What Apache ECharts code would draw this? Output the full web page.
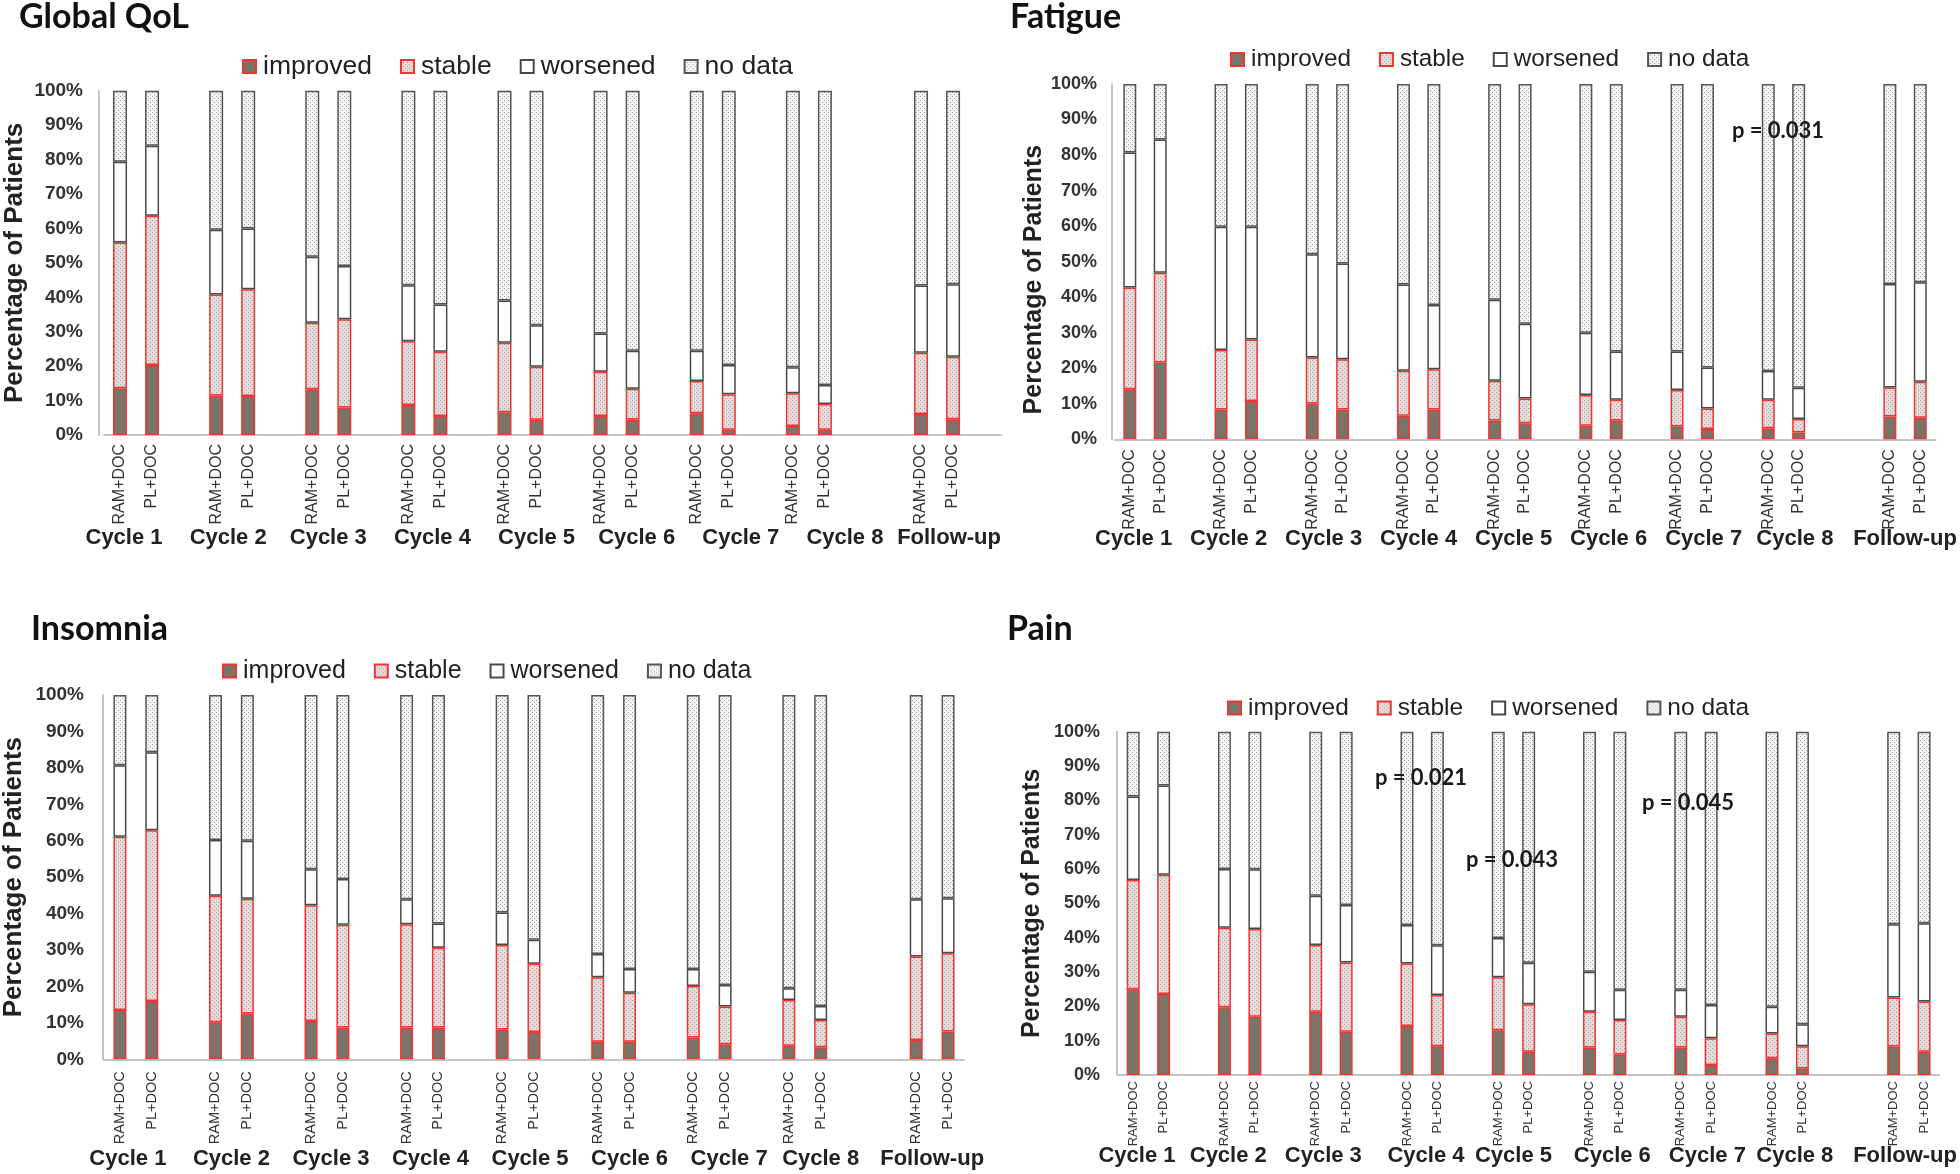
<!DOCTYPE html>
<html>
<head>
<meta charset="utf-8">
<script src="https://cdn.jsdelivr.net/npm/echarts@6/dist/echarts.min.js"></script>
<style>
html,body{margin:0;padding:0;background:#ffffff;}
#chart{width:1960px;height:1174px;}
</style>
</head>
<body>
<div id="chart"></div>
<script>
// ---------------- DATA ----------------
const groups = ['Cycle 1','Cycle 2','Cycle 3','Cycle 4','Cycle 5','Cycle 6','Cycle 7','Cycle 8','Follow-up'];
const arms = ['RAM+DOC','PL+DOC'];
const outcomes = ['improved','stable','worsened','no data'];
const yTicks = [0,10,20,30,40,50,60,70,80,90,100];

// bar order: Cycle 1 RAM+DOC, Cycle 1 PL+DOC, Cycle 2 RAM+DOC, Cycle 2 PL+DOC, ... Follow-up PL+DOC
const qolImproved = [13.6,20.3,11.5,11.3,13.3,8.0,8.7,5.5,6.6,4.4,5.5,4.5,6.3,1.5,2.6,1.5,6.1,4.6];
const qolStable   = [42.3,43.4,29.3,31.0,19.3,25.6,18.5,18.7,20.2,15.4,12.9,8.9,9.4,10.3,9.5,7.5,17.8,18.1];
const qolWorsened = [23.5,20.3,18.8,17.7,19.2,15.5,16.3,13.7,12.3,12.1,11.1,11.1,8.8,8.5,7.6,5.5,19.5,21.1];
const qolNoData   = [20.6,16.0,40.4,40.0,48.2,50.9,56.5,62.1,60.9,68.1,70.5,75.5,75.5,79.7,80.3,85.5,56.6,56.2];

const fatImproved = [14.1,21.6,8.4,10.8,10.1,8.4,6.6,8.4,5.3,4.5,3.8,5.3,3.6,2.9,3.1,1.9,6.4,6.1];
const fatStable   = [28.6,25.3,16.7,17.3,12.9,14.1,12.7,11.3,11.2,7.0,8.7,5.8,10.3,5.8,8.0,3.8,8.2,10.1];
const fatWorsened = [38.0,37.5,34.7,31.7,29.1,27.0,24.3,18.1,22.8,21.0,17.5,13.6,10.8,11.5,8.1,8.8,29.1,28.0];
const fatNoData   = [19.3,15.6,40.2,40.2,47.9,50.5,56.4,62.2,60.7,67.5,70.0,75.3,75.3,79.8,80.8,85.5,56.3,55.8];

const insImproved = [13.5,16.0,10.2,12.6,10.5,8.7,8.7,8.7,8.2,7.5,4.8,4.8,6.0,4.1,3.7,3.3,5.3,7.6];
const insStable   = [47.6,46.9,34.7,31.5,31.8,28.2,28.4,21.9,23.2,18.7,17.7,13.5,14.1,10.4,12.6,7.5,22.9,21.5];
const insWorsened = [19.6,21.4,15.3,15.9,9.9,12.6,6.8,6.7,8.9,6.6,6.4,6.5,4.7,5.9,3.2,3.8,15.7,15.1];
const insNoData   = [19.3,15.7,39.8,40.0,47.8,50.5,56.1,62.7,59.7,67.2,71.1,75.2,75.2,79.6,80.5,85.4,56.1,55.8];

const painImproved = [25.0,23.6,19.7,17.0,18.4,12.6,14.3,8.4,13.0,6.8,8.0,6.0,8.0,2.9,4.9,1.9,8.3,6.8];
const painStable   = [31.8,34.7,23.2,25.5,19.5,20.2,18.2,14.9,15.5,13.8,10.4,10.0,9.0,7.8,7.2,6.5,14.3,14.6];
const painWorsened = [24.3,26.0,17.1,17.4,14.3,16.7,11.2,14.5,11.4,12.1,11.7,8.8,7.8,9.7,7.8,6.4,21.3,22.8];
const painNoData   = [18.9,15.7,40.0,40.1,47.8,50.5,56.3,62.2,60.1,67.3,69.9,75.2,75.2,79.6,80.1,85.2,56.1,55.8];

const fatPValues  = ['p = 0.031'];
const painPValues = ['p = 0.021','p = 0.043','p = 0.045'];

// ---------------- LAYOUT ----------------
const panels = [
  { title:'Global QoL', values:[qolImproved,qolStable,qolWorsened,qolNoData], pvals:[], pPos:[],
    left:104, top:90.7, bottom:435, slot:32.04, trailing:1, yOffset:5, barWidth:14,
    titleX:19, titleY:0, legendX:242, legendY:53, legendFont:26.5,
    yFont:19, yMargin:16, nameFont:26, nameGap:71, nameShift:0,
    armFont:16, armMargin:9, groupMargin:92, groupX:[125,228,330,433,536,637,742,844,950] },
  { title:'Fatigue', values:[fatImproved,fatStable,fatWorsened,fatNoData], pvals:fatPValues, pPos:[[1778,131]],
    left:1114.6, top:84, bottom:439.3, slot:30.7, trailing:0, yOffset:2.6, barWidth:13,
    titleX:1010, titleY:0, legendX:1230, legendY:47.5, legendFont:24.3,
    yFont:18, yMargin:15, nameFont:25, nameGap:52, nameShift:36,
    armFont:16, armMargin:10, groupMargin:89, groupX:[1133,1229,1325,1422,1517,1612,1709,1803,1911] },
  { title:'Insomnia', values:[insImproved,insStable,insWorsened,insNoData], pvals:[], pPos:[],
    left:100, top:695, bottom:1059.3, slot:32, trailing:0, yOffset:1, barWidth:13,
    titleX:31, titleY:612, legendX:222, legendY:658.5, legendFont:25,
    yFont:19, yMargin:19, nameFont:26, nameGap:76, nameShift:0,
    armFont:14.5, armMargin:12, groupMargin:89, groupX:[124,227,327,428,528,629,728,821,931] },
  { title:'Pain', values:[painImproved,painStable,painWorsened,painNoData], pvals:painPValues,
    pPos:[[1421,778],[1512,860],[1688,803]],
    left:1118, top:731.7, bottom:1075, slot:30.5, trailing:0, yOffset:1, barWidth:13,
    titleX:1007, titleY:612, legendX:1227, legendY:695.5, legendFont:24.5,
    yFont:18, yMargin:17, nameFont:25, nameGap:72, nameShift:0,
    armFont:13, armMargin:6, groupMargin:70, groupX:[1138,1228,1324,1426,1516,1612,1708,1797,1908] }
];

// ---------------- STYLE ----------------
function dotPattern(bg, dot) {
  const c = document.createElement('canvas');
  c.width = 4; c.height = 4;
  const ctx = c.getContext('2d');
  ctx.fillStyle = bg; ctx.fillRect(0, 0, 4, 4);
  ctx.fillStyle = dot; ctx.fillRect(0, 0, 1, 1); ctx.fillRect(2, 2, 1, 1);
  return { image: c, repeat: 'repeat' };
}
const RED = '#f03434';
const styles = [
  { color:'#7a7368', borderColor:RED, borderWidth:1.5 },
  { color:dotPattern('#e6dcdc', '#a89898'), borderColor:RED, borderWidth:1.5 },
  { color:'#ffffff', borderColor:'#4a4a4a', borderWidth:1.5 },
  { color:dotPattern('#f5f5f5', '#9c9c9c'), borderColor:'#555555', borderWidth:1.5 }
];

function buildSlots(trailing) {
  const slots = [];
  groups.forEach((g, gi) => {
    arms.forEach((a, ai) => slots.push({ label:a, bar:gi * 2 + ai }));
    const blanks = gi === 7 ? 2 : (gi === groups.length - 1 ? trailing : 1);
    for (let b = 0; b < blanks; b++) slots.push({ label:'', bar:-1 });
  });
  return slots;
}

const grid = [], xAxis = [], yAxis = [], series = [], legend = [], title = [], graphic = [];
const FINE = 8;
const SANS = 'Liberation Sans, Arial, sans-serif';

panels.forEach((p, pi) => {
  const slots = buildSlots(p.trailing);
  const n = slots.length;
  grid.push({ left:p.left, top:p.top, width:p.slot * n, height:p.bottom - p.top, containLabel:false });

  xAxis.push({
    type:'category', gridIndex:pi, data:slots.map((s, i) => String(i)),
    axisLine:{ show:true, lineStyle:{ color:'#c4c4c4', width:2 } },
    axisTick:{ show:false },
    axisLabel:{ interval:0, rotate:90, margin:p.armMargin, fontSize:p.armFont, fontFamily:SANS,
      color:'#333333', formatter:(v) => slots[+v].label }
  });

  const fineMap = {};
  groups.forEach((g, gi) => { fineMap[Math.round((p.groupX[gi] - p.left) / p.slot * FINE)] = g; });
  const fineData = [];
  for (let j = 0; j <= n * FINE; j++) fineData.push(String(j));
  xAxis.push({
    type:'category', gridIndex:pi, data:fineData, boundaryGap:false, position:'bottom',
    axisLine:{ show:false }, axisTick:{ show:false }, splitLine:{ show:false },
    axisLabel:{ interval:0, margin:p.groupMargin, fontSize:22, fontWeight:'bold', color:'#222222',
      fontFamily:SANS, formatter:(v) => fineMap[+v] || '' }
  });

  yAxis.push({
    type:'value', gridIndex:pi, min:yTicks[0], max:yTicks[yTicks.length - 1], interval:yTicks[1] - yTicks[0],
    offset:p.yOffset,
    axisLine:{ show:true, lineStyle:{ color:'#c4c4c4', width:2 } },
    axisTick:{ show:false }, splitLine:{ show:false },
    axisLabel:{ formatter:'{value}%', fontSize:p.yFont, fontWeight:'bold', color:'#333333', margin:p.yMargin,
      fontFamily:SANS },
    name:'Percentage of Patients', nameLocation:'middle', nameRotate:90, nameGap:p.nameGap,
    nameTextStyle:{ fontSize:p.nameFont, fontWeight:'bold', color:'#222222', fontFamily:SANS,
      padding:[0, p.nameShift, 0, 0] }
  });

  outcomes.forEach((o, oi) => {
    series.push({
      name:o, type:'bar', stack:'panel' + pi, xAxisIndex:pi * 2, yAxisIndex:pi,
      barWidth:p.barWidth,
      data:slots.map(s => s.bar < 0 ? '-' : p.values[oi][s.bar]),
      itemStyle:styles[oi],
      emphasis:{ disabled:true },
      silent:true
    });
  });

  legend.push({
    data:outcomes, left:p.legendX, top:p.legendY, orient:'horizontal', padding:0,
    itemWidth:13, itemHeight:13, itemGap:28, icon:'rect', selectedMode:false,
    textStyle:{ fontSize:p.legendFont, color:'#222222', fontFamily:SANS, padding:[0, 0, 0, 2] }
  });

  title.push({
    text:p.title, left:p.titleX, top:p.titleY, padding:0,
    textStyle:{ fontSize:34, fontWeight:'bold', color:'#111111', fontFamily:'Lato, sans-serif' }
  });

  p.pvals.forEach((t, ti) => {
    graphic.push({
      type:'text', x:p.pPos[ti][0], y:p.pPos[ti][1], z:100,
      style:{ text:t, fontSize:22, fontWeight:'bold', fill:'#1a1a1a', fontFamily:'Lato, sans-serif',
        align:'center', verticalAlign:'middle' }
    });
  });
});

const chart = echarts.init(document.getElementById('chart'), null, { renderer:'canvas' });
chart.setOption({
  animation:false,
  backgroundColor:'#ffffff',
  title, legend, grid, xAxis, yAxis, series, graphic
});
</script>
</body>
</html>
